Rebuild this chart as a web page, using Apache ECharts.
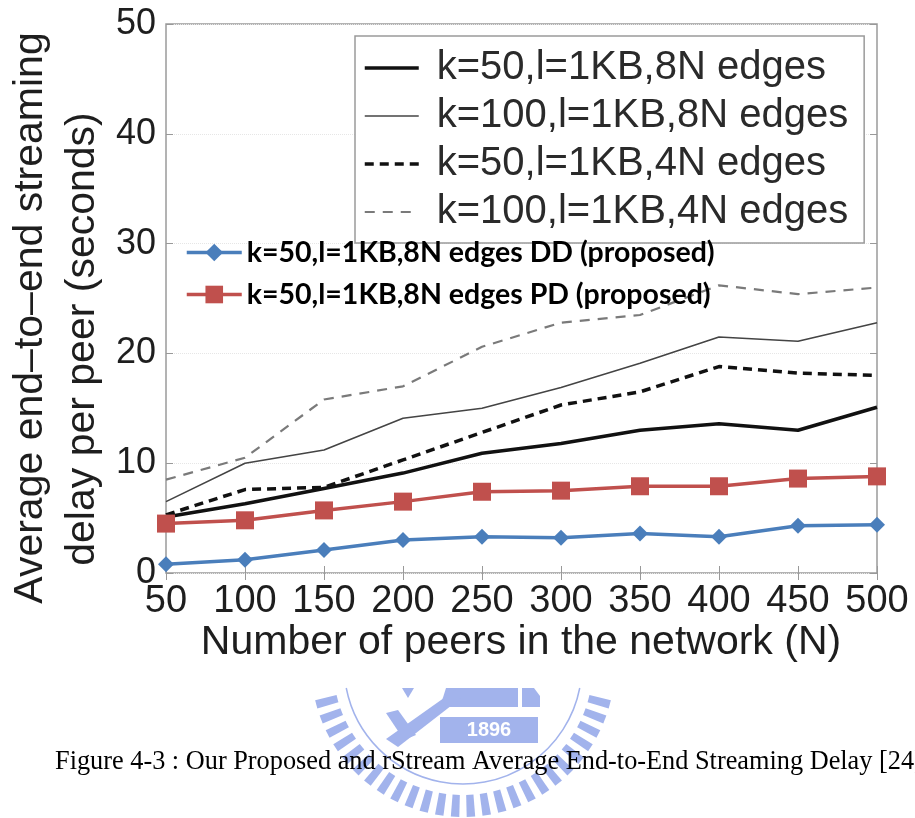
<!DOCTYPE html>
<html>
<head>
<meta charset="utf-8">
<script src="https://cdn.jsdelivr.net/npm/echarts@6/dist/echarts.min.js"></script>
<style>
html,body{margin:0;padding:0;background:#fff;}
#chart{width:915px;height:818px;}
</style>
</head>
<body>
<div id="chart"></div>
<script>
// ---- data ----
const peers = [50, 100, 150, 200, 250, 300, 350, 400, 450, 500];
const k50_8N  = [5.1, 6.3, 7.7, 9.1, 10.9, 11.8, 13.0, 13.6, 13.0, 15.1];
const k100_8N = [6.5, 10.0, 11.2, 14.1, 15.0, 16.9, 19.1, 21.5, 21.1, 22.8];
const k50_4N  = [5.3, 7.6, 7.8, 10.3, 12.8, 15.3, 16.5, 18.8, 18.2, 18.0];
const k100_4N = [8.5, 10.5, 15.8, 17.0, 20.6, 22.8, 23.5, 26.2, 25.4, 26.0];
const ddProposed = [0.8, 1.2, 2.1, 3.0, 3.3, 3.2, 3.6, 3.3, 4.3, 4.4];
const pdProposed = [4.5, 4.8, 5.7, 6.5, 7.4, 7.5, 7.9, 7.9, 8.6, 8.8];
const seriesNames = [
  'k=50,l=1KB,8N edges',
  'k=100,l=1KB,8N edges',
  'k=50,l=1KB,4N edges',
  'k=100,l=1KB,4N edges',
  'k=50,l=1KB,8N edges DD (proposed)',
  'k=50,l=1KB,8N edges PD (proposed)'
];
const yTitle1 = 'Average end\u2013to\u2013end streaming';
const yTitle2 = 'delay per peer (seconds)';
const xTitle = 'Number of peers in the network (N)';
const caption = 'Figure 4-3 : Our Proposed and rStream Average End-to-End Streaming Delay [24]';

const pair = arr => peers.map((p, i) => [p, arr[i]]);

// ---- watermark logo (decoration) ----
const logoColor = '#a2b3ec';
const cx = 463, cy = 665, rIn = 130, rOut = 152, cutY = 688;
const logo = [];
for (let i = 0; i < 60; i++) {
  const a = (i + 0.5) * Math.PI * 2 / 60;
  const h = 0.028;
  const pts = [
    [cx + rIn * Math.cos(a - h), cy + rIn * Math.sin(a - h)],
    [cx + rOut * Math.cos(a - h), cy + rOut * Math.sin(a - h)],
    [cx + rOut * Math.cos(a + h), cy + rOut * Math.sin(a + h)],
    [cx + rIn * Math.cos(a + h), cy + rIn * Math.sin(a + h)]
  ];
  if (Math.min(...pts.map(p => p[1])) > cutY) {
    logo.push({ type: 'polygon', shape: { points: pts }, style: { fill: logoColor }, z: 1 });
  }
}
const ringR = 119;
const ringA = Math.asin((cutY - cy) / ringR);
logo.push({ type: 'arc', shape: { cx: cx, cy: cy, r: ringR, startAngle: ringA, endAngle: Math.PI - ringA, clockwise: true },
  style: { stroke: logoColor, lineWidth: 1.5, fill: null }, z: 1 });
logo.push({ type: 'polygon', shape: { points: [[446, 688], [518, 688], [518, 707], [440, 707]] }, style: { fill: logoColor }, z: 1 });
logo.push({ type: 'polygon', shape: { points: [[522, 688], [534, 688], [540, 696], [540, 707], [522, 707]] }, style: { fill: logoColor }, z: 1 });
logo.push({ type: 'rect', shape: { x: 440, y: 717, width: 98, height: 26 }, style: { fill: logoColor }, z: 1 });
logo.push({ type: 'text', x: 489, y: 730, style: { text: '1896', fill: '#ffffff', font: 'bold 20px "Liberation Sans"', align: 'center', verticalAlign: 'middle' }, z: 2 });
logo.push({ type: 'polygon', shape: { points: [[386, 739], [398, 747], [474, 688], [458, 688]] }, style: { fill: logoColor }, z: 1 });
logo.push({ type: 'polygon', shape: { points: [[386, 713], [398, 710], [416, 735], [404, 740]] }, style: { fill: logoColor }, z: 1 });
logo.push({ type: 'polygon', shape: { points: [[402, 688], [414, 688], [408, 698]] }, style: { fill: logoColor }, z: 1 });

const labelColor = '#1e1e1e';
const chart = echarts.init(document.getElementById('chart'), null, { renderer: 'canvas' });

const matlabLine = (name, data, color, width, type) => ({
  name: name, type: 'line', data: pair(data), symbol: 'none', showSymbol: false,
  lineStyle: { color: color, width: width, type: type }, itemStyle: { color: color },
  z: 2, animation: false
});

chart.setOption({
  animation: false,
  backgroundColor: '#ffffff',
  grid: { left: 166, right: 38, top: 24, bottom: 245, show: true, borderColor: '#9a9a9a', borderWidth: 1.5, backgroundColor: '#ffffff' },
  xAxis: [
    { type: 'value', min: 50, max: 500, interval: 50, position: 'bottom',
      axisLine: { show: false }, splitLine: { show: false },
      axisTick: { show: true, inside: true, length: 7, lineStyle: { color: '#999' } },
      axisLabel: { fontSize: 38, fontFamily: 'Liberation Sans', color: labelColor, margin: 10 } },
    { type: 'value', min: 50, max: 500, interval: 50, position: 'top',
      axisLine: { show: false }, splitLine: { show: false },
      axisTick: { show: true, inside: true, length: 7, lineStyle: { color: '#999' } },
      axisLabel: { show: false } }
  ],
  yAxis: [
    { type: 'value', min: 0, max: 50, interval: 10, position: 'left',
      axisLine: { show: false },
      splitLine: { show: true, lineStyle: { color: '#e6e6e6', type: 'dotted', width: 1 } },
      axisTick: { show: true, inside: true, length: 7, lineStyle: { color: '#999' } },
      axisLabel: { fontSize: 36, fontFamily: 'Liberation Sans', color: labelColor, margin: 10 } },
    { type: 'value', min: 0, max: 50, interval: 10, position: 'right',
      axisLine: { show: false }, splitLine: { show: false },
      axisTick: { show: true, inside: true, length: 7, lineStyle: { color: '#999' } },
      axisLabel: { show: false } }
  ],
  legend: [
    { data: seriesNames.slice(0, 4), orient: 'vertical', left: 355, top: 36,
      itemWidth: 54, itemHeight: 20, itemGap: 8,
      itemStyle: { opacity: 0 },
      lineStyle: { width: 'inherit', type: 'inherit', color: 'inherit' },
      backgroundColor: '#ffffff', borderColor: '#9a9a9a', borderWidth: 1.5,
      padding: [12, 16, 11, 8],
      textStyle: { fontSize: 40, fontFamily: 'Liberation Sans', color: '#2a2a2a', padding: [0, 0, 0, 13] },
      selectedMode: false },
    { data: seriesNames.slice(4), orient: 'vertical', left: 185, top: 238,
      itemWidth: 55, itemHeight: 22, itemGap: 13, padding: 0,
      lineStyle: { width: 'inherit' },
      textStyle: { fontSize: 28.5, fontFamily: 'Lato', fontWeight: 'bold', color: '#000' },
      selectedMode: false }
  ],
  series: [
    matlabLine(seriesNames[0], k50_8N, '#111111', 3.5, 'solid'),
    matlabLine(seriesNames[1], k100_8N, '#444444', 1.6, 'solid'),
    matlabLine(seriesNames[2], k50_4N, '#111111', 3.5, [9, 6]),
    matlabLine(seriesNames[3], k100_4N, '#7a7a7a', 2.2, [10, 8]),
    { name: seriesNames[4], type: 'line', data: pair(ddProposed), symbol: 'diamond', symbolSize: 16,
      lineStyle: { color: '#4a7ebb', width: 3.5 }, itemStyle: { color: '#4a7ebb' }, z: 5 },
    { name: seriesNames[5], type: 'line', data: pair(pdProposed), symbol: 'rect', symbolSize: 18,
      lineStyle: { color: '#c0504d', width: 3.5 }, itemStyle: { color: '#c0504d' }, z: 6 }
  ],
  graphic: [
    { type: 'text', x: 31, y: 318, rotation: Math.PI / 2,
      style: { text: yTitle1, font: '41px "Liberation Sans"', fill: labelColor, align: 'center', verticalAlign: 'middle' } },
    { type: 'text', x: 83, y: 339, rotation: Math.PI / 2,
      style: { text: yTitle2, font: '41px "Liberation Sans"', fill: labelColor, align: 'center', verticalAlign: 'middle' } },
    { type: 'text', x: 521, y: 643,
      style: { text: xTitle, font: '41px "Liberation Sans"', fill: labelColor, align: 'center', verticalAlign: 'middle' } },
    { type: 'group', children: logo, z: 1 },
    { type: 'text', x: 55, y: 762, z: 10,
      style: { text: caption, font: '26.3px "Liberation Serif"', fill: '#000', align: 'left', verticalAlign: 'middle' } }
  ]
});
</script>
</body>
</html>
